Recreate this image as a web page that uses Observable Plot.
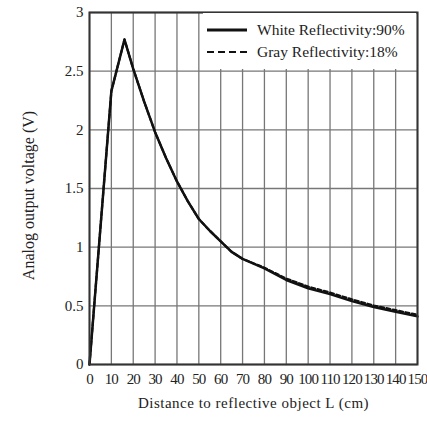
<!DOCTYPE html>
<html><head><meta charset="utf-8">
<script src="https://cdn.jsdelivr.net/npm/d3@7"></script>
<script src="https://cdn.jsdelivr.net/npm/@observablehq/plot@0.6"></script>
<style>
body{margin:0;background:#fff;}
#wrap{position:relative;width:427px;height:423px;font-family:"Liberation Serif",serif;}
#legend{position:absolute;left:203px;top:13px;width:213px;height:56px;background:#fff;font-size:15.5px;color:#222;}
.row{position:absolute;left:4px;display:flex;align-items:center;}
.row svg{margin-right:10px;}
.xt text{letter-spacing:-0.9px;}
.xl text{letter-spacing:0.5px;}
</style>
</head><body>
<div id="wrap"></div>
<script>
const distance = [0,10,16,20,25,30,35,40,45,50,55,60,65,70,80,90,100,110,120,130,140,150];
const white = [0,2.33,2.77,2.52,2.24,1.98,1.76,1.56,1.39,1.24,1.14,1.05,0.96,0.9,0.82,0.72,0.65,0.6,0.54,0.49,0.45,0.41];
const gray  = [0,2.33,2.77,2.52,2.24,1.98,1.76,1.56,1.39,1.24,1.14,1.05,0.96,0.9,0.825,0.732,0.664,0.613,0.555,0.503,0.463,0.424];
const xTicks = [0,10,20,30,40,50,60,70,80,90,100,110,120,130,140,150];
const yTicks = [0,0.5,1,1.5,2,2.5,3];
const xLabel = "Distance to reflective object L (cm)";
const yLabel = "Analog output voltage (V)";
const legendLabels = ["White Reflectivity:90%","Gray Reflectivity:18%"];

const whiteData = distance.map((d,i)=>({x:d,y:white[i]}));
const grayData = distance.map((d,i)=>({x:d,y:gray[i]}));

const chart = Plot.plot({
  width:427, height:423,
  marginTop:12, marginBottom:59, marginLeft:89, marginRight:10,
  style:{fontFamily:"Liberation Serif, serif", fontSize:"15px", color:"#222", background:"#fff"},
  x:{domain:[0,150], label:null},
  y:{domain:[0,3], label:null},
  marks:[
    Plot.gridX(xTicks,{stroke:"#777", strokeOpacity:1, strokeWidth:1.3}),
    Plot.gridY(yTicks,{stroke:"#777", strokeOpacity:1, strokeWidth:1.3}),
    Plot.axisX(xTicks,{tickSize:0, tickPadding:9, fontSize:15, className:"xt", label:null}),
    Plot.axisY(yTicks,{tickSize:0, tickPadding:6, fontSize:15, tickFormat:d=>String(d), label:null}),
    Plot.text([xLabel],{text:d=>d, frameAnchor:"bottom", dy:43, fontSize:15, className:"xl", fill:"#222"}),
    Plot.text([yLabel],{text:d=>d, frameAnchor:"left", textAnchor:"middle", dx:-61, dy:7, rotate:-90, fontSize:16, fill:"#222"}),
    Plot.line(grayData,{x:"x", y:"y", stroke:"#111", strokeWidth:2.2, strokeDasharray:"4,2.5"}),
    Plot.line(whiteData,{x:"x", y:"y", stroke:"#111", strokeWidth:2.5}),
    Plot.frame({stroke:"#333", strokeWidth:2})
  ]
});
const wrap = document.getElementById("wrap");
wrap.appendChild(chart);
const lg = document.createElement("div");
lg.id="legend";
lg.innerHTML = `<div class="row" style="top:8px"><svg width="40" height="8"><line x1="0" y1="4" x2="40" y2="4" stroke="#111" stroke-width="3"/></svg><span>${legendLabels[0]}</span></div>
<div class="row" style="top:30px"><svg width="40" height="8"><line x1="0" y1="4" x2="40" y2="4" stroke="#111" stroke-width="2.2" stroke-dasharray="7,4"/></svg><span>${legendLabels[1]}</span></div>`;
wrap.appendChild(lg);
</script>
</body></html>
